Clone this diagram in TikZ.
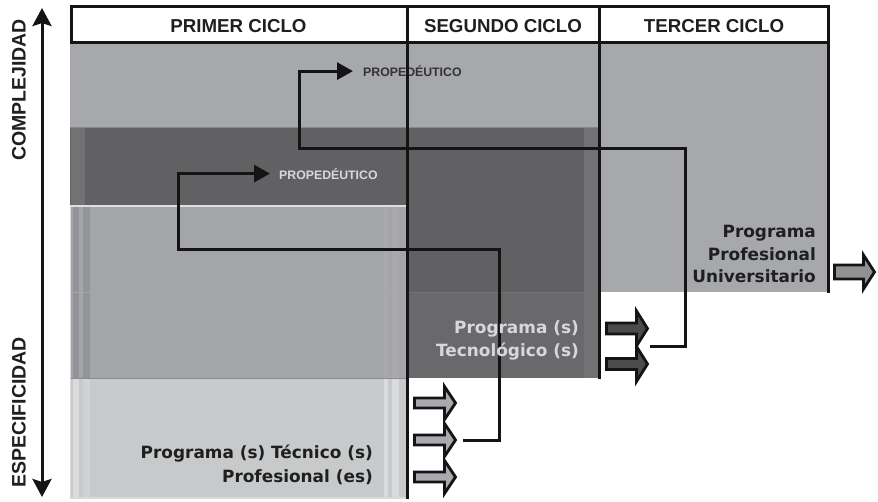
\documentclass[tikz,border=0pt]{standalone}
\usepackage{fontspec}
\setmainfont{Liberation Sans}
\newfontfamily\progfont{DejaVu Sans}
\usetikzlibrary{arrows.meta}
\definecolor{unigrey}{HTML}{A7A8AB}
\definecolor{darkgrey}{HTML}{616163}
\definecolor{darklow}{HTML}{69696B}
\definecolor{darkstrip}{HTML}{727274}
\definecolor{tecmid}{HTML}{A4A5A8}
\definecolor{teclow}{HTML}{C8C9CB}
\definecolor{stripmid}{HTML}{939497}
\definecolor{striplow}{HTML}{DADBDD}
\definecolor{txtdark}{HTML}{1F1F1F}
\definecolor{txtlight}{HTML}{D8D8DA}
\definecolor{arrgrey}{HTML}{A9AAAD}
\definecolor{arrdark}{HTML}{4B4B4D}
\definecolor{arrmid}{HTML}{909194}
\tikzset{
  hdr/.style={font=\fontsize{18.7}{20}\selectfont\bfseries, text=txtdark, inner sep=0pt, anchor=base},
  axlab/.style={font=\fontsize{19.5}{20}\selectfont\bfseries, text=txtdark, inner sep=0pt, anchor=base, rotate=90},
  prog/.style={font=\progfont\fontsize{16.9}{20}\selectfont\bfseries, inner sep=0pt, anchor=base east},
  prop/.style={font=\fontsize{12.3}{14}\selectfont\bfseries, inner sep=0pt, anchor=base west},
  bl/.style={line width=3pt, draw=black!92},
  conn/.style={line width=3pt, draw=black!92, line join=miter, -{Triangle[length=16pt,width=17pt]}},
  blk/.style={draw=black!92, line width=2.8pt, line join=miter, miter limit=10},
  axis/.style={line width=3pt, draw=black!92, {Stealth[length=18pt,width=19pt,inset=3pt]}-{Stealth[length=18pt,width=19pt,inset=3pt]}}
}
\newcommand{\blockarr}[7]{%
  \path[blk, fill=#7] ({#1},{#2-#5}) -- ({#1+#3-#4},{#2-#5}) -- ({#1+#3-#4},{#2-#6}) -- ({#1+#3},{#2})
    -- ({#1+#3-#4},{#2+#6}) -- ({#1+#3-#4},{#2+#5}) -- ({#1},{#2+#5}) -- cycle;}
\begin{document}
\begin{tikzpicture}[x=1pt,y=-1pt]
\useasboundingbox[fill=white] (0,0) rectangle (878,501);
% --- university block
\fill[unigrey] (70,42) rectangle (828,292);
% --- technological block
\fill[darkgrey] (70,127) rectangle (600,378);
\fill[darklow] (407,292) rectangle (600,378);
\fill[darkstrip] (71,127) rectangle (85,205.5);
\fill[darkstrip] (584,127) rectangle (600,378);
\draw[darkstrip!85!white, line width=1.5pt] (70,127.5) -- (600,127.5);
\draw[black!55, line width=1.2pt] (407,292.5) -- (600,292.5);
% --- technical block
\fill[tecmid] (70,205.5) rectangle (407,378);
\fill[teclow] (70,378) rectangle (407,498);
\fill[stripmid] (72.5,205.5) rectangle (79,378);
\fill[stripmid] (82.5,205.5) rectangle (90,378);
\fill[stripmid!80!white] (384,205.5) rectangle (388,378);
\fill[stripmid!80!white] (392,205.5) rectangle (399,378);
\fill[striplow] (72.5,379) rectangle (79,497);
\fill[striplow!96!black] (82.5,379) rectangle (90,497);
\fill[striplow] (384,379) rectangle (388,497);
\fill[striplow] (392,379) rectangle (399,497);
\draw[white!75!gray, line width=1.5pt] (70,206) -- (407,206);
\draw[black!35, line width=1.2pt] (70,292.5) -- (407,292.5);
\draw[black!45, line width=1.5pt] (70,378.5) -- (407,378.5);
\draw[white!70!gray, line width=1.2pt] (70.5,205.5) -- (70.5,498) -- (407,498);
% --- header
\filldraw[bl, fill=white] (71,6.5) rectangle (828,42);
\node[hdr] (h1) at (238.5,32) {PRIMER CICLO};
\node[hdr] (h2) at (503,32) {SEGUNDO CICLO};
\node[hdr] (h3) at (714,32) {TERCER CICLO};
% --- block labels
\node[prop, text=black!80] (prop2) at (363,76.5) {PROPEDÉUTICO};
\node[prop, text=txtlight] (prop1) at (279,179) {PROPEDÉUTICO};
% --- structure lines
\draw[bl] (407,6.5) -- (407,498.5);
\draw[bl] (599.5,6.5) -- (599.5,378.5);
\draw[bl] (828,42) -- (828,292.5);
% --- connectors
\coordinate (c1s) at (463,440);
\coordinate (c1a) at (499,249);
\coordinate (c1b) at (178,249);
\draw[conn] (c1s) -| (c1a) -- (c1b) |- ([xshift=-9pt]prop1.west);
\coordinate (c2s) at (650,346);
\coordinate (c2a) at (685,148);
\coordinate (c2b) at (299,148);
\draw[conn] (c2s) -| (c2a) -- (c2b) |- ([xshift=-10pt]prop2.west);
% --- block arrows
\blockarr{414.5}{403}{41}{11}{5}{16.5}{arrgrey}
\blockarr{414.5}{440}{41}{11}{5}{16.5}{arrgrey}
\blockarr{414.5}{477}{41}{11}{5}{16.5}{arrgrey}
\blockarr{606.5}{328.5}{41}{11}{5.5}{17.5}{arrdark}
\blockarr{606.5}{364}{41}{11}{5.5}{17.5}{arrdark}
\blockarr{834.5}{272}{40}{11}{7}{17}{arrmid}
% --- axis
\coordinate (axb) at (42,497);
\coordinate (axt) at (42,8);
\draw[axis] (axb) -- (axt);
\node[axlab] (ax1) at (25.5,90) {COMPLEJIDAD};
\node[axlab] (ax2) at (25.5,412.5) {ESPECIFICIDAD};
% --- programme labels
\node[prog, text=txtdark] (un1) at (816,237) {Programa};
\node[prog, text=txtdark] (un2) at (816,260) {Profesional};
\node[prog, text=txtdark] (un3) at (816,282) {Universitario};
\node[prog, text=txtlight] (tg1) at (579,333) {Programa (s)};
\node[prog, text=txtlight] (tg2) at (579,356) {Tecnológico (s)};
\node[prog, text=txtdark] (tc1) at (373,458) {Programa (s) Técnico (s)};
\node[prog, text=txtdark] (tc2) at (373,482) {Profesional (es)};
\end{tikzpicture}
\end{document}
